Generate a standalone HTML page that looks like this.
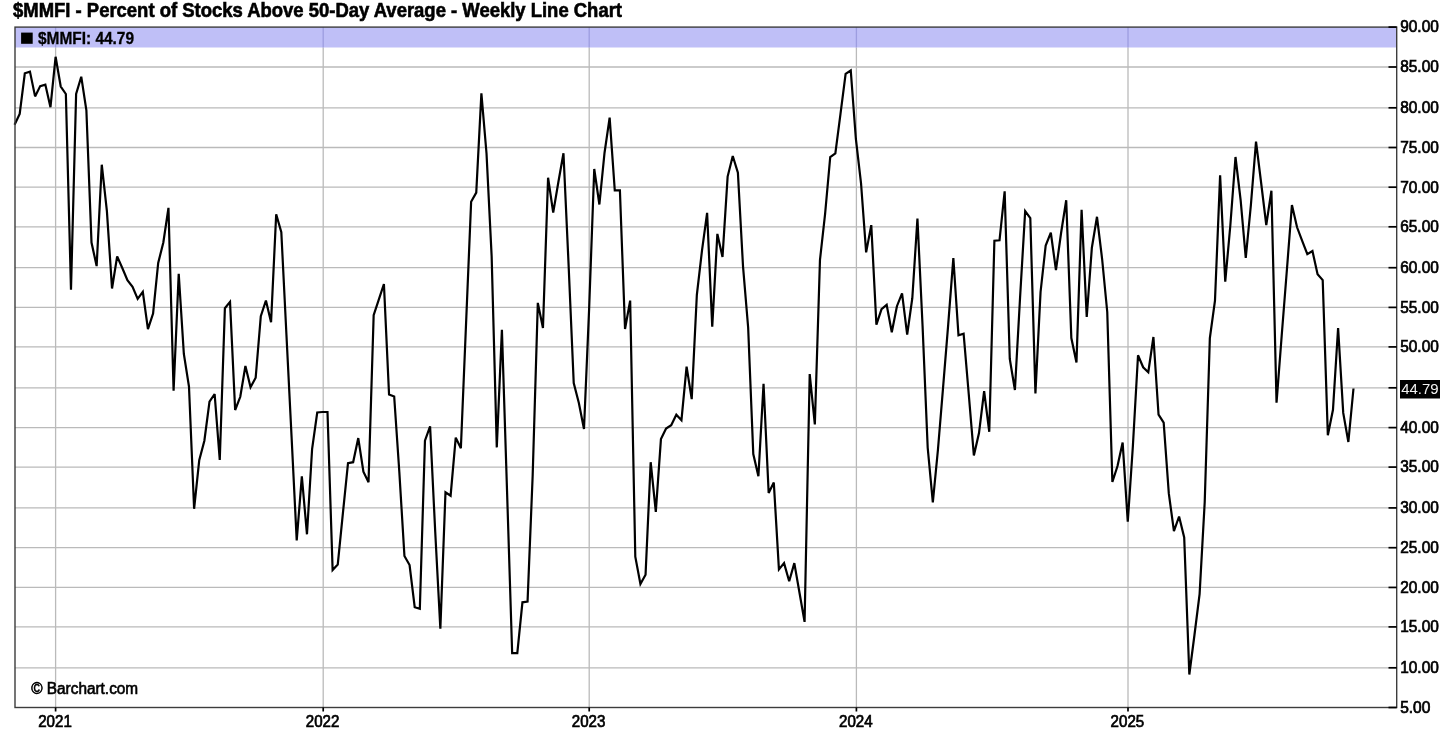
<!DOCTYPE html>
<html><head><meta charset="utf-8"><title>$MMFI Weekly Line Chart</title>
<style>
html,body{margin:0;padding:0;background:#fff;width:1456px;height:738px;overflow:hidden}
svg{display:block;filter:blur(0.3px);font-family:"Liberation Sans",sans-serif}
</style></head><body>
<svg width="1456" height="738" viewBox="0 0 1456 738">
<rect x="0" y="0" width="1456" height="738" fill="#fff"/>
<text x="13" y="16.6" font-size="19.4" font-weight="bold" fill="#000" stroke="#000" stroke-width="0.6" textLength="609" lengthAdjust="spacingAndGlyphs">$MMFI - Percent of Stocks Above 50-Day Average - Weekly Line Chart</text>
<rect x="15.0" y="27.1" width="1381.7" height="20.4" fill="#bfbff7"/>
<g stroke="#bababa" stroke-width="1.3"><line x1="15.0" y1="667.8" x2="1396.7" y2="667.8"/><line x1="15.0" y1="626.9" x2="1396.7" y2="626.9"/><line x1="15.0" y1="587.45" x2="1396.7" y2="587.45"/><line x1="15.0" y1="547.7" x2="1396.7" y2="547.7"/><line x1="15.0" y1="507.9" x2="1396.7" y2="507.9"/><line x1="15.0" y1="467.1" x2="1396.7" y2="467.1"/><line x1="15.0" y1="427.6" x2="1396.7" y2="427.6"/><line x1="15.0" y1="387.8" x2="1396.7" y2="387.8"/><line x1="15.0" y1="346.9" x2="1396.7" y2="346.9"/><line x1="15.0" y1="307.4" x2="1396.7" y2="307.4"/><line x1="15.0" y1="267.7" x2="1396.7" y2="267.7"/><line x1="15.0" y1="226.8" x2="1396.7" y2="226.8"/><line x1="15.0" y1="187.2" x2="1396.7" y2="187.2"/><line x1="15.0" y1="147.5" x2="1396.7" y2="147.5"/><line x1="15.0" y1="107.8" x2="1396.7" y2="107.8"/><line x1="15.0" y1="67.0" x2="1396.7" y2="67.0"/><line x1="55.6" y1="47.5" x2="55.6" y2="707.5"/><line x1="323.2" y1="47.5" x2="323.2" y2="707.5"/><line x1="589.2" y1="47.5" x2="589.2" y2="707.5"/><line x1="856.4" y1="47.5" x2="856.4" y2="707.5"/><line x1="1128.0" y1="47.5" x2="1128.0" y2="707.5"/></g>
<g stroke="#9d9de0" stroke-width="1.3"><line x1="55.6" y1="27.1" x2="55.6" y2="47.5"/><line x1="323.2" y1="27.1" x2="323.2" y2="47.5"/><line x1="589.2" y1="27.1" x2="589.2" y2="47.5"/><line x1="856.4" y1="27.1" x2="856.4" y2="47.5"/><line x1="1128.0" y1="27.1" x2="1128.0" y2="47.5"/></g>
<rect x="21.1" y="32.6" width="11.6" height="11.2" fill="#000"/>
<text x="38" y="43.7" font-size="16.2" font-weight="bold" fill="#000" stroke="#000" stroke-width="0.3" textLength="96" lengthAdjust="spacingAndGlyphs">$MMFI: 44.79</text>
<text x="31.2" y="694.1" font-size="15.6" fill="#000" stroke="#000" stroke-width="0.6" textLength="107" lengthAdjust="spacingAndGlyphs">© Barchart.com</text>
<polyline points="14.56,124.7 19.69,114.0 24.82,73.3 29.95,71.6 35.08,96.4 40.21,86.1 45.34,84.6 50.47,107.2 55.60,56.8 60.73,86.5 65.86,94.0 70.99,289.7 76.12,94.0 81.25,76.7 86.38,110.3 91.51,242.5 96.64,266.1 101.77,164.7 106.90,211.1 112.03,288.5 117.16,256.4 122.29,268.0 127.42,280.2 132.55,286.7 137.68,298.9 142.81,291.9 147.94,329.2 153.07,313.6 158.20,262.9 163.33,242.5 168.46,207.8 173.59,390.8 178.72,273.7 183.85,354.0 188.98,386.5 194.11,508.8 199.24,460.2 204.37,440.7 209.50,401.6 214.63,394.0 219.76,460.0 224.89,308.2 230.02,301.9 235.15,410.0 240.28,396.8 245.41,366.0 250.54,387.3 255.67,377.8 260.80,316.2 265.93,300.5 271.06,322.3 276.19,214.2 281.32,232.2 286.45,335.0 291.58,437.0 296.71,540.4 301.84,476.4 306.97,534.3 312.10,449.0 317.23,412.5 322.36,412.0 327.49,412.0 332.62,570.0 337.75,564.5 342.88,513.4 348.01,463.2 353.14,462.2 358.27,438.1 363.40,471.7 368.53,482.2 373.66,315.2 378.79,299.6 383.92,284.0 389.05,394.4 394.18,396.4 399.31,471.7 404.44,556.0 409.57,565.0 414.70,607.2 419.83,608.7 424.96,440.6 430.09,426.4 435.22,531.8 440.35,628.8 445.48,492.3 450.61,495.7 455.74,437.7 460.87,448.2 466.00,325.0 471.13,201.8 476.26,192.6 481.39,93.4 486.52,153.5 491.65,256.4 496.78,447.4 501.91,329.9 507.04,491.0 512.17,653.2 517.30,653.2 522.43,602.3 527.56,601.5 532.69,475.0 537.82,302.9 542.95,328.0 548.08,177.7 553.21,212.6 558.34,182.3 563.47,153.3 568.60,265.0 573.73,383.0 578.86,403.0 583.99,429.0 589.12,309.0 594.25,169.0 599.38,204.5 604.51,153.0 609.64,117.6 614.77,190.3 619.90,190.3 625.03,329.0 630.16,300.6 635.29,556.7 640.42,584.0 645.55,574.8 650.68,462.2 655.81,511.8 660.94,439.1 666.07,428.6 671.20,425.2 676.33,414.7 681.46,420.2 686.59,366.7 691.72,399.1 696.85,294.8 701.98,250.7 707.11,212.9 712.24,326.6 717.37,233.9 722.50,257.0 727.63,176.6 732.76,156.0 737.89,172.6 743.02,266.3 748.15,327.5 753.28,454.0 758.41,476.2 763.54,383.8 768.67,493.0 773.80,482.5 778.93,569.4 784.06,563.1 789.19,581.2 794.32,563.1 799.45,592.5 804.58,621.9 809.71,374.1 814.84,424.5 819.97,260.0 825.10,213.8 830.23,157.0 835.36,153.3 840.49,113.8 845.62,73.9 850.75,70.5 855.88,139.0 861.01,183.0 866.14,252.4 871.27,225.1 876.40,324.6 881.53,309.1 886.66,304.9 891.79,332.2 896.92,306.2 902.05,293.4 907.18,334.7 912.31,298.2 917.44,218.5 922.57,326.0 927.70,447.8 932.83,502.4 937.96,449.5 943.09,387.3 948.22,324.3 953.35,258.0 958.48,335.2 963.61,333.6 968.74,394.0 973.87,455.4 979.00,433.1 984.13,391.1 989.26,431.8 994.39,240.7 999.52,240.3 1004.65,191.4 1009.78,359.0 1014.91,390.0 1020.04,298.0 1025.17,211.2 1030.30,218.2 1035.43,393.4 1040.56,292.0 1045.69,245.5 1050.82,232.6 1055.95,270.2 1061.08,233.0 1066.21,200.2 1071.34,338.0 1076.47,362.4 1081.60,209.9 1086.73,317.0 1091.86,247.7 1096.99,216.8 1102.12,259.0 1107.25,312.0 1112.38,482.0 1117.51,466.0 1122.64,442.6 1127.77,521.8 1132.90,445.8 1138.03,355.2 1143.16,367.3 1148.29,372.2 1153.42,337.0 1158.55,414.7 1163.68,422.7 1168.81,493.4 1173.94,531.2 1179.07,516.5 1184.20,537.5 1189.33,674.5 1194.46,635.0 1199.59,594.2 1204.72,502.0 1209.85,338.0 1214.98,300.6 1220.11,175.4 1225.24,281.7 1230.37,225.0 1235.50,157.0 1240.63,200.0 1245.76,257.8 1250.89,205.0 1256.02,141.7 1261.15,183.0 1266.28,225.1 1271.41,190.7 1276.54,402.6 1281.67,336.0 1286.80,271.0 1291.93,205.0 1297.06,227.3 1302.19,240.8 1307.32,254.2 1312.45,251.0 1317.58,274.3 1322.71,280.1 1327.84,435.3 1332.97,409.8 1338.10,328.0 1343.23,412.9 1348.36,442.0 1353.49,388.5" fill="none" stroke="#000" stroke-width="2.2" stroke-linejoin="miter" stroke-miterlimit="3"/>
<rect x="15.0" y="27.1" width="1381.7" height="680.4" fill="none" stroke="#3c3c3c" stroke-width="1.4"/>
<g stroke="#000" stroke-width="1.7"><line x1="1388.5" y1="707.5" x2="1396.7" y2="707.5"/><line x1="1388.5" y1="667.8" x2="1396.7" y2="667.8"/><line x1="1388.5" y1="626.9" x2="1396.7" y2="626.9"/><line x1="1388.5" y1="587.45" x2="1396.7" y2="587.45"/><line x1="1388.5" y1="547.7" x2="1396.7" y2="547.7"/><line x1="1388.5" y1="507.9" x2="1396.7" y2="507.9"/><line x1="1388.5" y1="467.1" x2="1396.7" y2="467.1"/><line x1="1388.5" y1="427.6" x2="1396.7" y2="427.6"/><line x1="1388.5" y1="387.8" x2="1396.7" y2="387.8"/><line x1="1388.5" y1="346.9" x2="1396.7" y2="346.9"/><line x1="1388.5" y1="307.4" x2="1396.7" y2="307.4"/><line x1="1388.5" y1="267.7" x2="1396.7" y2="267.7"/><line x1="1388.5" y1="226.8" x2="1396.7" y2="226.8"/><line x1="1388.5" y1="187.2" x2="1396.7" y2="187.2"/><line x1="1388.5" y1="147.5" x2="1396.7" y2="147.5"/><line x1="1388.5" y1="107.8" x2="1396.7" y2="107.8"/><line x1="1388.5" y1="67.0" x2="1396.7" y2="67.0"/><line x1="1388.5" y1="27.1" x2="1396.7" y2="27.1"/><line x1="55.6" y1="707.5" x2="55.6" y2="711.5"/><line x1="323.2" y1="707.5" x2="323.2" y2="711.5"/><line x1="589.2" y1="707.5" x2="589.2" y2="711.5"/><line x1="856.4" y1="707.5" x2="856.4" y2="711.5"/><line x1="1128.0" y1="707.5" x2="1128.0" y2="711.5"/></g>
<g font-size="15.6" fill="#000" stroke="#000" stroke-width="0.7"><text x="1400.2" y="712.8" textLength="30.2" lengthAdjust="spacingAndGlyphs">5.00</text><text x="1400.2" y="673.1" textLength="38.6" lengthAdjust="spacingAndGlyphs">10.00</text><text x="1400.2" y="632.2" textLength="38.6" lengthAdjust="spacingAndGlyphs">15.00</text><text x="1400.2" y="592.8" textLength="38.6" lengthAdjust="spacingAndGlyphs">20.00</text><text x="1400.2" y="553.0" textLength="38.6" lengthAdjust="spacingAndGlyphs">25.00</text><text x="1400.2" y="513.2" textLength="38.6" lengthAdjust="spacingAndGlyphs">30.00</text><text x="1400.2" y="472.4" textLength="38.6" lengthAdjust="spacingAndGlyphs">35.00</text><text x="1400.2" y="432.9" textLength="38.6" lengthAdjust="spacingAndGlyphs">40.00</text><text x="1400.2" y="352.2" textLength="38.6" lengthAdjust="spacingAndGlyphs">50.00</text><text x="1400.2" y="312.7" textLength="38.6" lengthAdjust="spacingAndGlyphs">55.00</text><text x="1400.2" y="273.0" textLength="38.6" lengthAdjust="spacingAndGlyphs">60.00</text><text x="1400.2" y="232.1" textLength="38.6" lengthAdjust="spacingAndGlyphs">65.00</text><text x="1400.2" y="192.5" textLength="38.6" lengthAdjust="spacingAndGlyphs">70.00</text><text x="1400.2" y="152.8" textLength="38.6" lengthAdjust="spacingAndGlyphs">75.00</text><text x="1400.2" y="113.1" textLength="38.6" lengthAdjust="spacingAndGlyphs">80.00</text><text x="1400.2" y="72.3" textLength="38.6" lengthAdjust="spacingAndGlyphs">85.00</text><text x="1400.2" y="32.4" textLength="38.6" lengthAdjust="spacingAndGlyphs">90.00</text></g>
<g font-size="16.2" fill="#000" stroke="#000" stroke-width="0.7"><text x="55.0" y="727.2" text-anchor="middle" textLength="33.6" lengthAdjust="spacingAndGlyphs">2021</text><text x="322.59999999999997" y="727.2" text-anchor="middle" textLength="33.6" lengthAdjust="spacingAndGlyphs">2022</text><text x="588.6" y="727.2" text-anchor="middle" textLength="33.6" lengthAdjust="spacingAndGlyphs">2023</text><text x="855.8" y="727.2" text-anchor="middle" textLength="33.6" lengthAdjust="spacingAndGlyphs">2024</text><text x="1127.4" y="727.2" text-anchor="middle" textLength="33.6" lengthAdjust="spacingAndGlyphs">2025</text></g>
<rect x="1400" y="380" width="40" height="18.5" fill="#000"/>
<text x="1401.2" y="394.3" font-size="15.2" fill="#f2f2f2" textLength="37.4" lengthAdjust="spacingAndGlyphs">44.79</text>
</svg>
</body></html>
